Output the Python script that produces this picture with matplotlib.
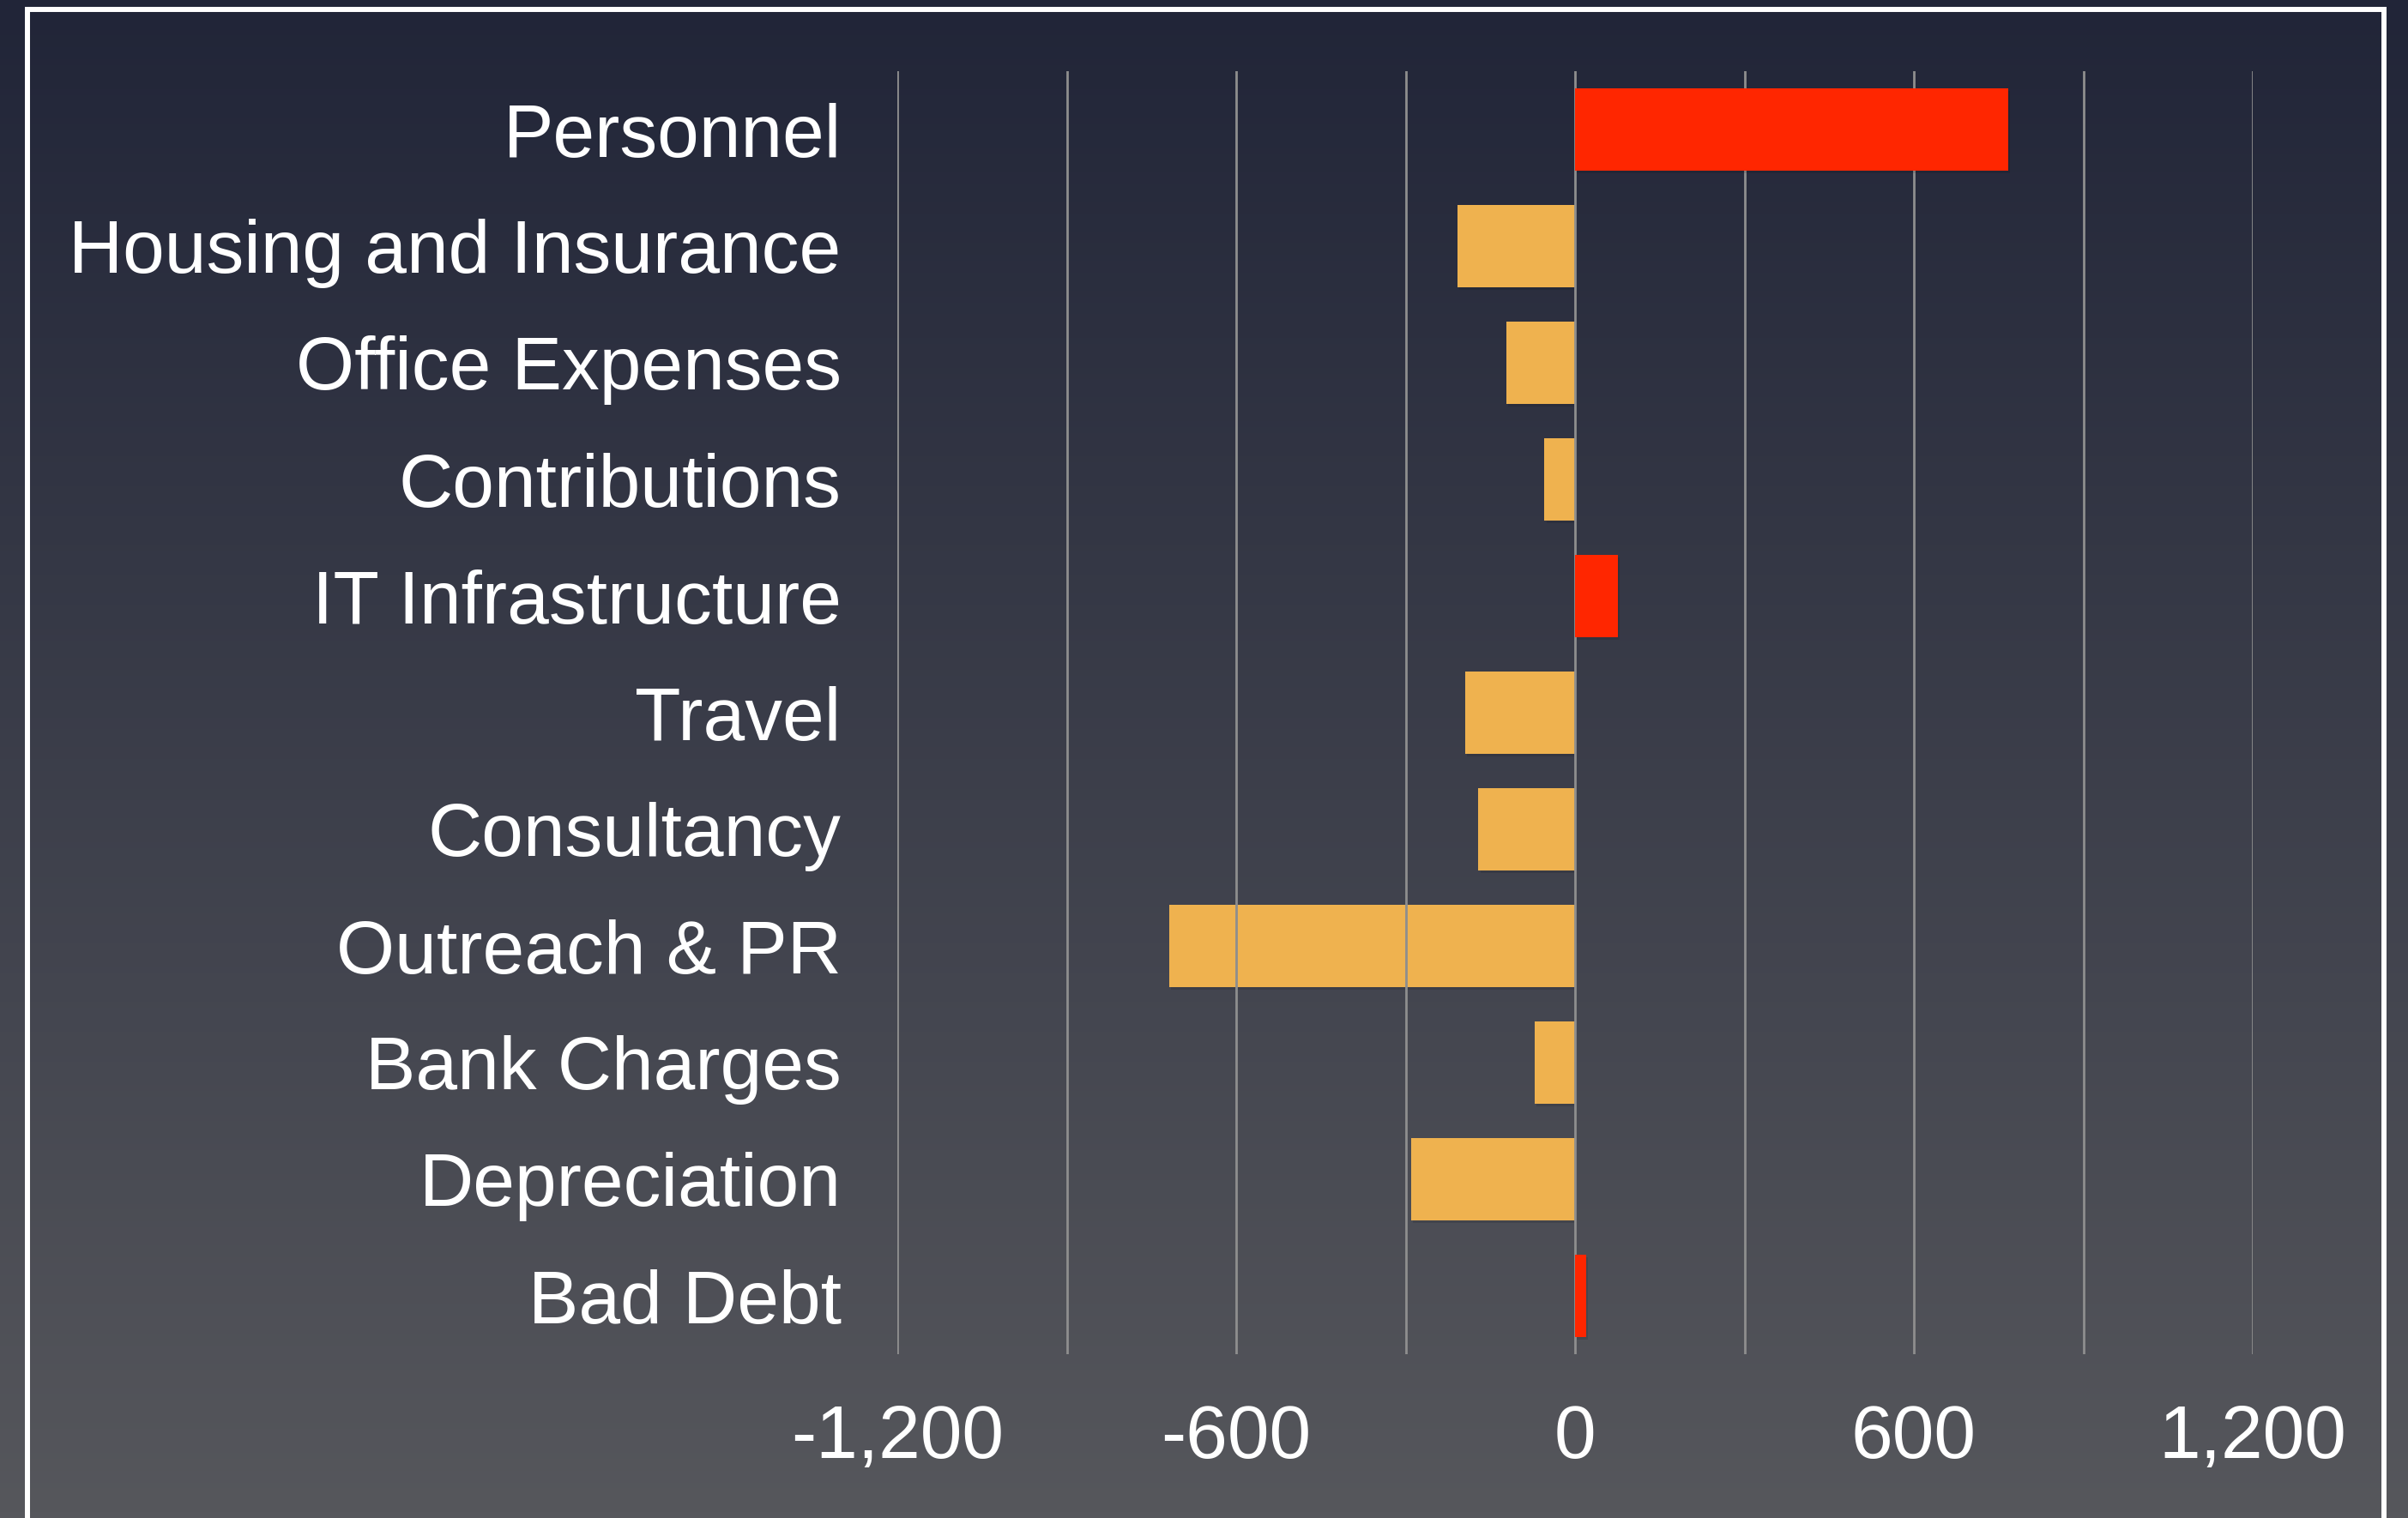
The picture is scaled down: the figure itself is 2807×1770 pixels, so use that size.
import numpy as np
import matplotlib
matplotlib.use("Agg")
import matplotlib.pyplot as plt
import matplotlib.patheffects as pe
from matplotlib.lines import Line2D

# data, top to bottom
categories = ["Personnel", "Housing and Insurance", "Office Expenses", "Contributions",
              "IT Infrastructure", "Travel", "Consultancy", "Outreach & PR",
              "Bank Charges", "Depreciation", "Bad Debt"]
values = [767, -208, -122, -54, 76, -195, -171, -719, -71, -290, 19]
xticks = [-1200, -600, 0, 600, 1200]
xtick_labels = ["-1,200", "-600", "0", "600", "1,200"]
grid_x = [-1200, -900, -600, -300, 0, 300, 600, 900, 1200]

W, H = 2807, 1770
fig = plt.figure(figsize=(W / 100, H / 100), dpi=100)
plt.rcParams['font.family'] = ['Liberation Sans', 'DejaVu Sans']

# background gradient
bg = fig.add_axes([0, 0, 1, 1], zorder=-10)
top = np.array([0x21, 0x25, 0x38]) / 255
bot = np.array([0x56, 0x57, 0x5c]) / 255
t = np.linspace(0, 1, 256)[:, None]
grad = (top + (bot - top) * t)[:, None, :]
bg.imshow(grad, aspect="auto", extent=[0, 1, 0, 1])
bg.set_axis_off()

# white frame (open at the bottom)
px = lambda x: x / W
py = lambda y: 1 - y / H
fx = [px(32), px(32), px(2778.5), px(2778.5)]
fy = [py(H + 20), py(11), py(11), py(H + 20)]
fig.add_artist(Line2D(fx, fy, color="white", lw=4.3, transform=fig.transFigure,
                      solid_joinstyle="miter"))

ax = fig.add_axes([1046 / W, 1 - 1579 / H, (2626 - 1046) / W, (1579 - 83) / H])
ax.set_facecolor("none")

y = np.arange(len(categories))
shadow = [pe.SimplePatchShadow(offset=(1.5, -2.5), shadow_rgbFace="black", alpha=0.1), pe.Normal()]
for yi, v in zip(y, values):
    if v >= 0:
        ax.barh(yi, v, height=0.706, color="#ff2600", zorder=3, path_effects=shadow)
    else:
        ax.barh(yi, v, height=0.706, color="#efb24f", zorder=1, path_effects=shadow)

for gx in grid_x:
    ax.axvline(gx, color="#8e8e8e", lw=2.0, zorder=2)

ax.set_xlim(-1200, 1200)
ax.set_ylim(len(categories) - 0.5, -0.5)
ax.set_yticks(y)
ax.set_yticklabels(categories)
ax.set_xticks(xticks)
ax.set_xticklabels(xtick_labels)
ax.tick_params(axis="y", length=0, pad=47, labelsize=63, labelcolor="white")
ax.tick_params(axis="x", length=0, pad=42, labelsize=63, labelcolor="white")
for s in ax.spines.values():
    s.set_visible(False)

fig.savefig("out.png", dpi=100)
